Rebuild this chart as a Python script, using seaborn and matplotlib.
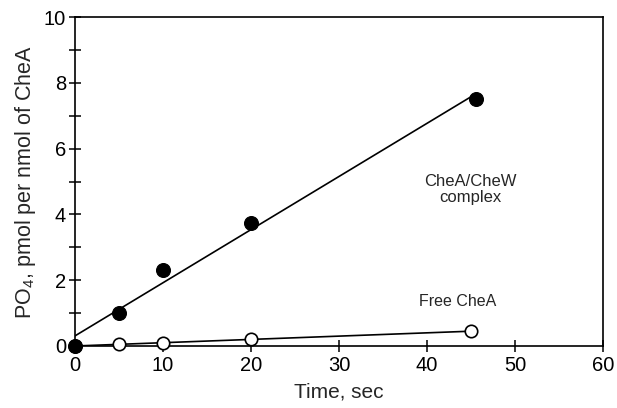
import matplotlib
matplotlib.use('Agg')
import matplotlib.pyplot as plt
import numpy as np
import pandas as pd
import seaborn as sns

# data
time_complex = [0, 5, 10, 20, 45.5]
po4_complex = [0.0, 1.0, 2.3, 3.75, 7.5]
time_free = [0, 5, 10, 20, 45]
po4_free = [0.0, 0.05, 0.1, 0.2, 0.45]

sns.set_style('ticks')
plt.rcParams['font.family'] = ['Liberation Sans', 'DejaVu Sans']
plt.rcParams['mathtext.fontset'] = 'custom'
plt.rcParams['mathtext.rm'] = 'Liberation Sans'

fig = plt.figure(figsize=(6.17, 4.08), dpi=100)
ax = fig.add_axes([0.1216, 0.152, 0.856, 0.806])

# least squares fit lines, drawn over the range of the data
for t, p in [(time_complex, po4_complex), (time_free, po4_free)]:
    slope, icpt = np.polyfit(t, p, 1)
    xs = np.array([0, max(t)])
    fit = pd.DataFrame({'x': xs, 'y': icpt + slope * xs})
    sns.lineplot(data=fit, x='x', y='y', color='black', lw=1.2, ax=ax)

sns.scatterplot(x=time_free, y=po4_free, s=80, facecolor='white',
                edgecolor='black', linewidth=1.2, ax=ax, clip_on=False, zorder=3)
sns.scatterplot(x=time_complex, y=po4_complex, s=100, color='black',
                edgecolor='black', ax=ax, clip_on=False, zorder=4)

ax.set_xlim(0, 60)
ax.set_ylim(0, 10)
ax.set_xticks(range(0, 61, 10))
ax.set_yticks(range(0, 11, 2))
ax.set_yticks(range(1, 10, 2), minor=True)
ax.tick_params(axis='both', which='both', direction='inout', length=9,
               width=1.1, labelsize=14.5, color='black', labelcolor='black')
ax.tick_params(axis='x', pad=3)
ax.tick_params(axis='y', pad=2)
for s in ax.spines.values():
    s.set_linewidth(1.2)
    s.set_color('black')

ax.set_xlabel('Time, sec', fontsize=15, labelpad=5)
ax.set_ylabel(r'PO$_4$, pmol per nmol of CheA', fontsize=15.5, labelpad=4)

ax.text(44.9, 4.75, 'CheA/CheW\ncomplex', ha='center', va='center',
        fontsize=12, linespacing=1.05)
ax.text(43.5, 1.34, 'Free CheA', ha='center', va='center', fontsize=11.5)

fig.savefig('out.png', dpi=100)
